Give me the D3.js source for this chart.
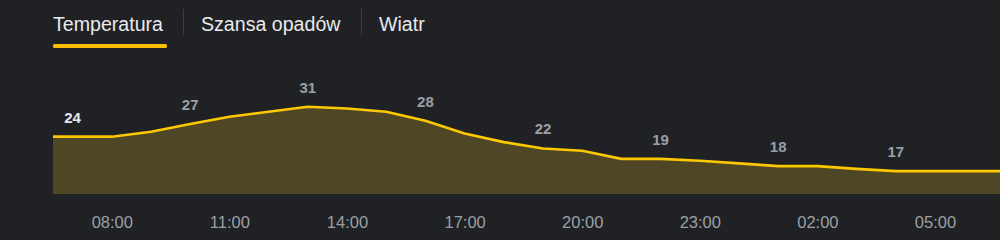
<!DOCTYPE html>
<html lang="pl">
    <head>
        <meta charset="utf-8">
        <title>Temperatura</title>
        <script type="text/javascript" src="https://cdn.jsdelivr.net/npm/d3@7/dist/d3.min.js"></script>
        <style type="text/css">
        body {
            margin: 0;
            background: #202124;
        }
        svg {
            display: block;
            font-family: "Liberation Sans", Arial, sans-serif;
        }
        .axis path,
        .axis line {
            display: none;
        }
        .axis text {
            font-family: "Liberation Sans", Arial, sans-serif;
            font-size: 16.5px;
            fill: #9aa0a6;
        }
        </style>
    </head>
    <body>
        <script>
                var w = 1000;
                var h = 240;
                var bottom = 194;

                // tabs on top
                var tabs = ["Temperatura", "Szansa opadów", "Wiatr"];

                // hourly data, 07:00 today to 07:00 tomorrow
                var hours = ["07:00", "08:00", "09:00", "10:00", "11:00", "12:00", "13:00", "14:00",
                             "15:00", "16:00", "17:00", "18:00", "19:00", "20:00", "21:00", "22:00",
                             "23:00", "00:00", "01:00", "02:00", "03:00", "04:00", "05:00", "06:00", "07:00"];
                var temps = [24.3, 24.3, 25.4, 27.1, 28.7, 29.8, 30.9, 30.5,
                             29.8, 27.8, 25.0, 23.1, 21.7, 21.2, 19.4, 19.4,
                             19.0, 18.4, 17.8, 17.8, 17.2, 16.7, 16.7, 16.7, 16.7];

                // which hours get a value label / a time label
                var labelIdx = [0, 3, 6, 9, 12, 15, 18, 21];
                var tickIdx = [1, 4, 7, 10, 13, 16, 19, 22];

                var xScale = d3.scalePoint()
                  .domain(d3.range(hours.length))
                  .range([53, 53 + hours.length * 39.2])
                  .padding(0.5);

                var yScale = d3.scaleLinear()
                  .domain([10, 34])
                  .range([201.5, 92.7]);

                var svg = d3.select("body")
                  .append("svg")
                  .attr("width", w)
                  .attr("height", h);

                // tabs
                var tabX = [53, 201, 379];
                svg.selectAll(".tab")
                  .data(tabs)
                  .enter()
                  .append("text")
                  .attr("class", "tab")
                  .attr("x", function (d, i) { return tabX[i]; })
                  .attr("y", 31)
                  .attr("font-size", "19.6px")
                  .attr("fill", "#e8eaed")
                  .text(function (d) { return d; });

                // separators between tabs
                [183.5, 361.5].forEach(function (x) {
                    svg.append("line")
                      .attr("x1", x).attr("x2", x)
                      .attr("y1", 9).attr("y2", 35)
                      .attr("stroke", "#3c4043")
                      .attr("stroke-width", 1);
                });

                // selected tab underline
                svg.append("rect")
                  .attr("x", 53)
                  .attr("y", 44)
                  .attr("width", 114)
                  .attr("height", 4)
                  .attr("rx", 1.5)
                  .attr("fill", "#fbbc04");

                // extend the curve flat by half a step at both ends
                var step = xScale.step();
                var pts = temps.map(function (t, i) { return [xScale(i), yScale(t)]; });
                pts.unshift([pts[0][0] - step / 2, pts[0][1]]);
                pts.push([pts[pts.length - 1][0] + step / 2, pts[pts.length - 1][1]]);

                var area = d3.area()
                  .x(function (d) { return d[0]; })
                  .y0(bottom)
                  .y1(function (d) { return d[1]; });

                svg.append("path")
                  .datum(pts)
                  .attr("fill", "#4f4626")
                  .attr("d", area);

                var line = d3.line()
                  .x(function (d) { return d[0]; })
                  .y(function (d) { return d[1]; });

                svg.append("path")
                  .datum(pts)
                  .attr("fill", "none")
                  .attr("stroke", "#fcc800")
                  .attr("stroke-width", 2.6)
                  .attr("stroke-linejoin", "round")
                  .attr("d", line);

                // value labels every 3 hours
                svg.selectAll(".val")
                  .data(labelIdx)
                  .enter()
                  .append("text")
                  .attr("class", "val")
                  .attr("x", function (d) { return xScale(d); })
                  .attr("y", function (d) { return yScale(temps[d]) - 14; })
                  .attr("text-anchor", "middle")
                  .attr("font-size", "15px")
                  .attr("font-weight", "bold")
                  .attr("fill", function (d, i) { return i === 0 ? "#e8eaed" : "#9aa0a6"; })
                  .text(function (d) { return Math.round(temps[d]); });

                // time axis
                svg.append("g")
                  .attr("class", "axis")
                  .attr("transform", "translate(0," + 215 + ")")
                  .call(d3.axisBottom(xScale)
                    .tickValues(tickIdx)
                    .tickSize(0)
                    .tickPadding(0)
                    .tickFormat(function (d) { return hours[d]; }))
                  .selectAll("text")
                  .attr("dy", "0.8em");

            </script>
    </body>
</html>
